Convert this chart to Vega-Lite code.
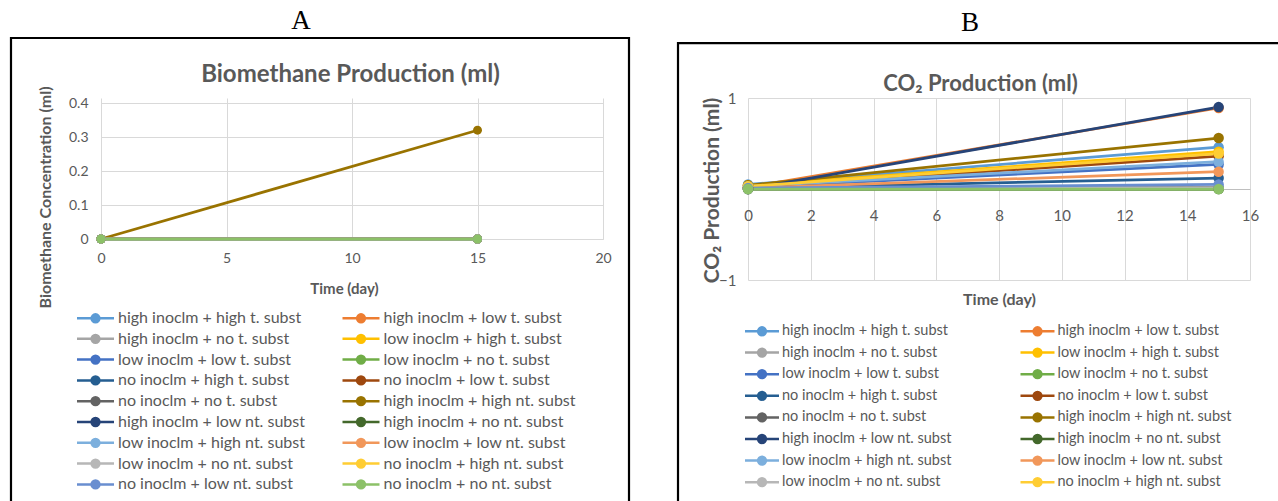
{
  "$schema": "https://vega.github.io/schema/vega-lite/v6.json",
  "background": "white",
  "padding": {"left": 9, "top": 6, "right": 0, "bottom": 0},
  "spacing": 45,
  "align": "none",
  "config": {"view": {"stroke": null}, "font": "Lato"},
  "resolve": {"scale": {"color": "independent"}, "legend": {"color": "independent"}},
  "datasets": {
    "ch4": [
      {"series": "high inoclm + high t. subst", "day": 0, "ml": 0}, {"series": "high inoclm + high t. subst", "day": 15, "ml": 0},
      {"series": "high inoclm + low t. subst", "day": 0, "ml": 0}, {"series": "high inoclm + low t. subst", "day": 15, "ml": 0},
      {"series": "high inoclm + no t. subst", "day": 0, "ml": 0}, {"series": "high inoclm + no t. subst", "day": 15, "ml": 0},
      {"series": "low inoclm + high t. subst", "day": 0, "ml": 0}, {"series": "low inoclm + high t. subst", "day": 15, "ml": 0},
      {"series": "low inoclm + low t. subst", "day": 0, "ml": 0}, {"series": "low inoclm + low t. subst", "day": 15, "ml": 0},
      {"series": "low inoclm + no t. subst", "day": 0, "ml": 0}, {"series": "low inoclm + no t. subst", "day": 15, "ml": 0},
      {"series": "no inoclm + high t. subst", "day": 0, "ml": 0}, {"series": "no inoclm + high t. subst", "day": 15, "ml": 0},
      {"series": "no inoclm + low t. subst", "day": 0, "ml": 0}, {"series": "no inoclm + low t. subst", "day": 15, "ml": 0},
      {"series": "no inoclm + no t. subst", "day": 0, "ml": 0}, {"series": "no inoclm + no t. subst", "day": 15, "ml": 0},
      {"series": "high inoclm + high nt. subst", "day": 0, "ml": 0}, {"series": "high inoclm + high nt. subst", "day": 15, "ml": 0.32},
      {"series": "high inoclm + low nt. subst", "day": 0, "ml": 0}, {"series": "high inoclm + low nt. subst", "day": 15, "ml": 0},
      {"series": "high inoclm + no nt. subst", "day": 0, "ml": 0}, {"series": "high inoclm + no nt. subst", "day": 15, "ml": 0},
      {"series": "low inoclm + high nt. subst", "day": 0, "ml": 0}, {"series": "low inoclm + high nt. subst", "day": 15, "ml": 0},
      {"series": "low inoclm + low nt. subst", "day": 0, "ml": 0}, {"series": "low inoclm + low nt. subst", "day": 15, "ml": 0},
      {"series": "low inoclm + no nt. subst", "day": 0, "ml": 0}, {"series": "low inoclm + no nt. subst", "day": 15, "ml": 0},
      {"series": "no inoclm + high nt. subst", "day": 0, "ml": 0}, {"series": "no inoclm + high nt. subst", "day": 15, "ml": 0},
      {"series": "no inoclm + low nt. subst", "day": 0, "ml": 0}, {"series": "no inoclm + low nt. subst", "day": 15, "ml": 0},
      {"series": "no inoclm + no nt. subst", "day": 0, "ml": 0}, {"series": "no inoclm + no nt. subst", "day": 15, "ml": 0}
    ],
    "co2": [
      {"series": "high inoclm + high t. subst", "day": 0, "ml": 0.05}, {"series": "high inoclm + high t. subst", "day": 15, "ml": 0.46},
      {"series": "high inoclm + low t. subst", "day": 0, "ml": 0.02}, {"series": "high inoclm + low t. subst", "day": 15, "ml": 0.89},
      {"series": "high inoclm + no t. subst", "day": 0, "ml": 0}, {"series": "high inoclm + no t. subst", "day": 15, "ml": 0.02},
      {"series": "low inoclm + high t. subst", "day": 0, "ml": 0.04}, {"series": "low inoclm + high t. subst", "day": 15, "ml": 0.41},
      {"series": "low inoclm + low t. subst", "day": 0, "ml": 0.02}, {"series": "low inoclm + low t. subst", "day": 15, "ml": 0.27},
      {"series": "low inoclm + no t. subst", "day": 0, "ml": 0}, {"series": "low inoclm + no t. subst", "day": 15, "ml": 0},
      {"series": "no inoclm + high t. subst", "day": 0, "ml": 0.01}, {"series": "no inoclm + high t. subst", "day": 15, "ml": 0.12},
      {"series": "no inoclm + low t. subst", "day": 0, "ml": 0.02}, {"series": "no inoclm + low t. subst", "day": 15, "ml": 0.36},
      {"series": "no inoclm + no t. subst", "day": 0, "ml": 0}, {"series": "no inoclm + no t. subst", "day": 15, "ml": 0.01},
      {"series": "high inoclm + high nt. subst", "day": 0, "ml": 0.04}, {"series": "high inoclm + high nt. subst", "day": 15, "ml": 0.56},
      {"series": "high inoclm + low nt. subst", "day": 0, "ml": 0}, {"series": "high inoclm + low nt. subst", "day": 15, "ml": 0.9},
      {"series": "high inoclm + no nt. subst", "day": 0, "ml": 0}, {"series": "high inoclm + no nt. subst", "day": 15, "ml": 0},
      {"series": "low inoclm + high nt. subst", "day": 0, "ml": 0.03}, {"series": "low inoclm + high nt. subst", "day": 15, "ml": 0.3},
      {"series": "low inoclm + low nt. subst", "day": 0, "ml": 0.01}, {"series": "low inoclm + low nt. subst", "day": 15, "ml": 0.19},
      {"series": "low inoclm + no nt. subst", "day": 0, "ml": 0}, {"series": "low inoclm + no nt. subst", "day": 15, "ml": 0.01},
      {"series": "no inoclm + high nt. subst", "day": 0, "ml": 0.03}, {"series": "no inoclm + high nt. subst", "day": 15, "ml": 0.39},
      {"series": "no inoclm + low nt. subst", "day": 0, "ml": 0.01}, {"series": "no inoclm + low nt. subst", "day": 15, "ml": 0.05},
      {"series": "no inoclm + no nt. subst", "day": 0, "ml": 0}, {"series": "no inoclm + no nt. subst", "day": 15, "ml": 0}
    ]
  },
  "hconcat": [
    {
      "title": {"text": "A", "font": "Liberation Serif", "fontSize": 27, "fontWeight": "normal", "color": "#000000", "anchor": "middle", "frame": "bounds", "offset": 2, "dx": -19},
      "vconcat": [
        {
          "width": 502,
          "height": 141,
          "resolve": {"axis": {"x": "independent", "y": "independent"}},
          "layer": [
            {
              "data": {"values": [{"box": "A"}]},
              "mark": {"type": "rect", "fillOpacity": 0, "stroke": "#000000", "strokeWidth": 2.2, "clip": false},
              "encoding": {
                "x": {"datum": -3.586, "type": "quantitative", "scale": {"domain": [0, 20], "nice": false, "zero": false}, "axis": null},
                "x2": {"datum": 21.036},
                "y": {"datum": 0.5912, "type": "quantitative", "scale": {"domain": [0, 0.414706], "nice": false, "zero": false}, "axis": null},
                "y2": {"datum": -0.797}
              }
            },
            {
              "data": {"name": "ch4"},
              "mark": {"type": "line", "strokeWidth": 2.75},
              "encoding": {
                "x": {"field": "day", "type": "quantitative", "scale": {"domain": [0, 20], "nice": false, "zero": false},
                  "axis": {"orient": "top", "values": [0, 5, 10, 15, 20], "grid": true, "gridColor": "#D9D9D9", "labels": false, "ticks": false, "domain": false,
                    "title": "Biomethane Production (ml)", "titleFont": "Lato", "titleFontSize": 24, "titleFontWeight": "bold", "titleColor": "#595959",
                    "titleX": 249, "titleY": -24, "titleBaseline": "middle", "titleAlign": "center", "titleAngle": 0}},
                "y": {"field": "ml", "type": "quantitative", "scale": {"domain": [0, 0.414706], "nice": false, "zero": false},
                  "axis": {"orient": "left", "values": [0, 0.1, 0.2, 0.3, 0.4], "format": ".1~f", "grid": true, "gridColor": "#D9D9D9", "ticks": false, "domain": false,
                    "labelFont": "Lato", "labelFontSize": 14, "labelColor": "#595959", "labelPadding": 13,
                    "title": "Biomethane Concentration (ml)", "titleFont": "Lato", "titleFontSize": 16, "titleFontWeight": "bold", "titleColor": "#595959",
                    "titleX": -56, "titleY": 99, "titleBaseline": "middle", "titleAlign": "center", "titleAngle": 270}},
                "color": {"field": "series", "type": "nominal",
                  "scale": {
                    "domain": ["high inoclm + high t. subst", "high inoclm + low t. subst", "high inoclm + no t. subst", "low inoclm + high t. subst", "low inoclm + low t. subst", "low inoclm + no t. subst", "no inoclm + high t. subst", "no inoclm + low t. subst", "no inoclm + no t. subst", "high inoclm + high nt. subst", "high inoclm + low nt. subst", "high inoclm + no nt. subst", "low inoclm + high nt. subst", "low inoclm + low nt. subst", "low inoclm + no nt. subst", "no inoclm + high nt. subst", "no inoclm + low nt. subst", "no inoclm + no nt. subst"],
                    "range": ["#5B9BD5", "#ED7D31", "#A5A5A5", "#FFC000", "#4472C4", "#70AD47", "#255E91", "#9E480E", "#636363", "#997300", "#264478", "#43682B", "#7CAFDD", "#F1975A", "#B7B7B7", "#FFCD33", "#698ED0", "#8CC168"]
                  },
                  "legend": {"orient": "none", "legendX": -24, "legendY": 211.5, "columns": 2, "direction": "horizontal", "title": null,
                    "labelFont": "Lato", "labelFontSize": 16, "labelColor": "#595959", "labelOffset": 24, "labelLimit": 400,
                    "symbolType": "M-1.214,0H4.071M1.989,0A0.56,0.56,0,1,1,0.869,0A0.56,0.56,0,1,1,1.989,0M1.799,0A0.37,0.37,0,1,1,1.059,0A0.37,0.37,0,1,1,1.799,0M1.559,0A0.13,0.13,0,1,1,1.299,0A0.13,0.13,0,1,1,1.559,0",
                    "symbolSize": 196, "symbolStrokeWidth": 2.5, "symbolOpacity": 1, "rowPadding": 1.8, "columnPadding": 31.5}}
              }
            },
            {
              "data": {"name": "ch4"},
              "mark": {"type": "circle", "size": 80, "opacity": 1},
              "encoding": {
                "x": {"field": "day", "type": "quantitative",
                  "axis": {"orient": "bottom", "values": [0, 5, 10, 15, 20], "grid": false, "ticks": false, "domain": true, "domainColor": "#D9D9D9", "labelFlush": false,
                    "labelFont": "Lato", "labelFontSize": 14, "labelColor": "#595959", "labelPadding": 12,
                    "title": "Time (day)", "titleFont": "Lato", "titleFontSize": 15, "titleFontWeight": "bold", "titleColor": "#595959",
                    "titleX": 243, "titleY": 49, "titleBaseline": "middle", "titleAlign": "center"}},
                "y": {"field": "ml", "type": "quantitative", "axis": null},
                "color": {"field": "series", "type": "nominal"}
              }
            }
          ]
        }
      ]
    },
    {
      "title": {"text": "B", "font": "Liberation Serif", "fontSize": 27, "fontWeight": "normal", "color": "#000000", "anchor": "middle", "frame": "bounds", "offset": 5, "dx": -14},
      "vconcat": [
        {
          "width": 502,
          "height": 182,
          "resolve": {"axis": {"x": "independent", "y": "independent"}},
          "layer": [
            {
              "data": {"values": [{"box": "B"}]},
              "mark": {"type": "rect", "fillOpacity": 0, "stroke": "#000000", "strokeWidth": 2.2, "clip": false},
              "encoding": {
                "x": {"datum": -2.231, "type": "quantitative", "scale": {"domain": [0, 16], "nice": false, "zero": false}, "axis": null},
                "x2": {"datum": 17.275},
                "y": {"datum": 1.604, "type": "quantitative", "scale": {"domain": [-1, 1], "nice": false, "zero": false}, "axis": null},
                "y2": {"datum": -3.637}
              }
            },
            {
              "data": {"name": "co2"},
              "mark": {"type": "line", "strokeWidth": 2.75},
              "encoding": {
                "x": {"field": "day", "type": "quantitative", "scale": {"domain": [0, 16], "nice": false, "zero": false},
                  "axis": {"orient": "top", "values": [0, 2, 4, 6, 8, 10, 12, 14, 16], "grid": true, "gridColor": "#D9D9D9", "labels": false, "ticks": false, "domain": false,
                    "title": "CO₂ Production (ml)", "titleFont": "Lato", "titleFontSize": 22, "titleFontWeight": "bold", "titleColor": "#595959",
                    "titleX": 232, "titleY": -15, "titleBaseline": "middle", "titleAlign": "center", "titleAngle": 0}},
                "y": {"field": "ml", "type": "quantitative", "scale": {"domain": [-1, 1], "nice": false, "zero": false},
                  "axis": {"orient": "left", "values": [-1, 0, 1], "format": "d", "grid": true, "gridColor": "#D9D9D9", "ticks": false, "domain": false,
                    "labelFont": "Lato", "labelFontSize": 15, "labelColor": "#595959", "labelPadding": 12,
                    "title": "CO₂ Production (ml)", "titleFont": "Lato", "titleFontSize": 21, "titleFontWeight": "bold", "titleColor": "#595959",
                    "titleX": -36, "titleY": 92, "titleBaseline": "middle", "titleAlign": "center", "titleAngle": 270}},
                "color": {"field": "series", "type": "nominal",
                  "scale": {
                    "domain": ["high inoclm + high t. subst", "high inoclm + low t. subst", "high inoclm + no t. subst", "low inoclm + high t. subst", "low inoclm + low t. subst", "low inoclm + no t. subst", "no inoclm + high t. subst", "no inoclm + low t. subst", "no inoclm + no t. subst", "high inoclm + high nt. subst", "high inoclm + low nt. subst", "high inoclm + no nt. subst", "low inoclm + high nt. subst", "low inoclm + low nt. subst", "low inoclm + no nt. subst", "no inoclm + high nt. subst", "no inoclm + low nt. subst", "no inoclm + no nt. subst"],
                    "range": ["#5B9BD5", "#ED7D31", "#A5A5A5", "#FFC000", "#4472C4", "#70AD47", "#255E91", "#9E480E", "#636363", "#997300", "#264478", "#43682B", "#7CAFDD", "#F1975A", "#B7B7B7", "#FFCD33", "#698ED0", "#8CC168"]
                  },
                  "legend": {"orient": "none", "legendX": -3, "legendY": 224.5, "columns": 2, "direction": "horizontal", "title": null,
                    "values": ["high inoclm + high t. subst", "high inoclm + low t. subst", "high inoclm + no t. subst", "low inoclm + high t. subst", "low inoclm + low t. subst", "low inoclm + no t. subst", "no inoclm + high t. subst", "no inoclm + low t. subst", "no inoclm + no t. subst", "high inoclm + high nt. subst", "high inoclm + low nt. subst", "high inoclm + no nt. subst", "low inoclm + high nt. subst", "low inoclm + low nt. subst", "low inoclm + no nt. subst", "no inoclm + high nt. subst"],
                    "labelFont": "Lato", "labelFontSize": 14.5, "labelColor": "#595959", "labelOffset": 20, "labelLimit": 400,
                    "symbolType": "M-1.214,0H3.643M1.774,0A0.56,0.56,0,1,1,0.654,0A0.56,0.56,0,1,1,1.774,0M1.584,0A0.37,0.37,0,1,1,0.844,0A0.37,0.37,0,1,1,1.584,0M1.344,0A0.13,0.13,0,1,1,1.084,0A0.13,0.13,0,1,1,1.344,0",
                    "symbolSize": 196, "symbolStrokeWidth": 2.5, "symbolOpacity": 1, "rowPadding": 2.6, "columnPadding": 63.5}}
              }
            },
            {
              "data": {"name": "co2"},
              "mark": {"type": "circle", "size": 110, "opacity": 1},
              "encoding": {
                "x": {"field": "day", "type": "quantitative",
                  "axis": {"orient": "bottom", "offset": -91, "values": [0, 2, 4, 6, 8, 10, 12, 14, 16], "grid": false, "ticks": false, "domain": true, "domainColor": "#BFBFBF", "labelFlush": false,
                    "labelFont": "Lato", "labelFontSize": 15, "labelColor": "#595959", "labelPadding": 19,
                    "title": "Time (day)", "titleFont": "Lato", "titleFontSize": 16, "titleFontWeight": "bold", "titleColor": "#595959",
                    "titleX": 251, "titleY": 110, "titleBaseline": "middle", "titleAlign": "center"}},
                "y": {"field": "ml", "type": "quantitative", "axis": null},
                "color": {"field": "series", "type": "nominal"}
              }
            }
          ]
        }
      ]
    }
  ]
}
